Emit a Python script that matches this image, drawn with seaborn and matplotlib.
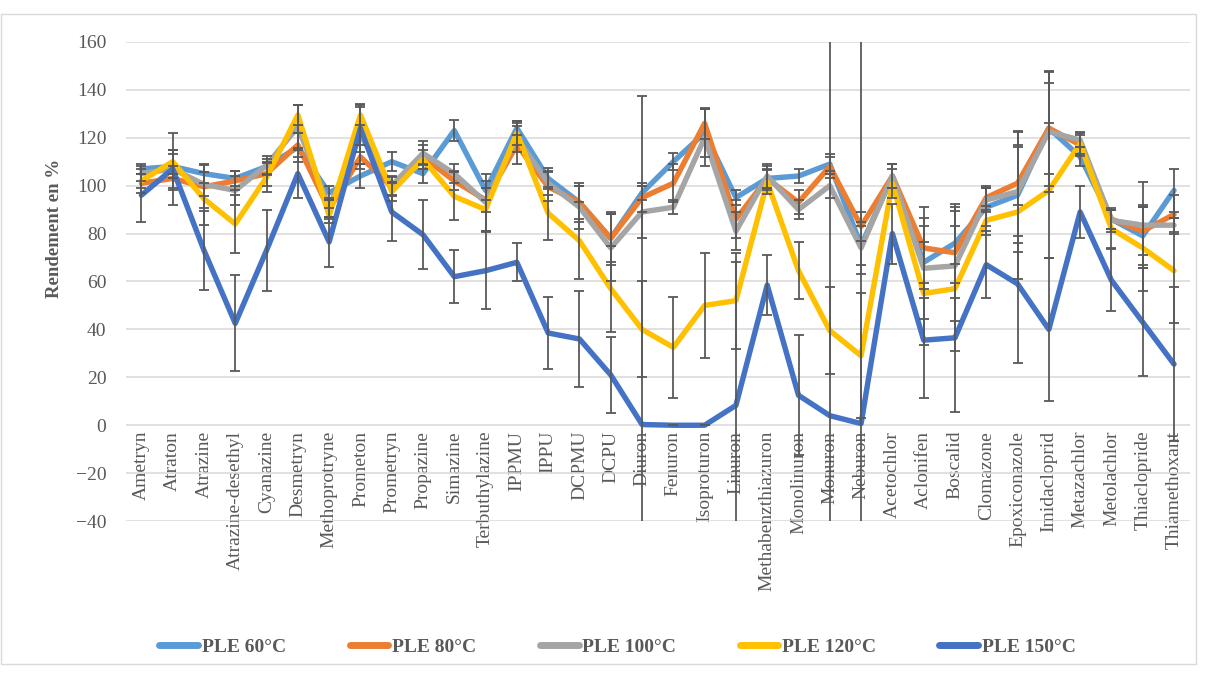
import matplotlib
matplotlib.use("Agg")
import matplotlib.pyplot as plt
from matplotlib.patches import Rectangle
import pandas as pd
import seaborn as sns

# categories (compounds)
compounds = ["Ametryn", "Atraton", "Atrazine", "Atrazine-desethyl", "Cyanazine", "Desmetryn",
             "Methoprotryne", "Prometon", "Prometryn", "Propazine", "Simazine", "Terbuthylazine",
             "IPPMU", "IPPU", "DCPMU", "DCPU", "Diuron", "Fenuron", "Isoproturon", "Linuron",
             "Methabenzthiazuron", "Monolinuron", "Monuron", "Neburon", "Acetochlor", "Aclonifen",
             "Boscalid", "Clomazone", "Epoxiconazole", "Imidacloprid", "Metazachlor", "Metolachlor",
             "Thiaclopride", "Thiamethoxant"]

series_names = ["PLE 60°C", "PLE 80°C", "PLE 100°C", "PLE 120°C", "PLE 150°C"]

# rendement (%)
ple60 = [107, 108, 105, 103, 108, 116, 97, 104, 110, 105, 123, 98, 124, 103, 93, 78, 97, 110,
         122, 95, 103, 104, 109, 75, 104, 68, 76, 91, 96, 124, 112, 86, 79, 98]
ple80 = [101, 103, 99.5, 102, 105, 117, 90, 112, 99.5, 112, 102, 94, 117, 99.5, 93, 78, 95, 101,
         126, 86, 103, 93, 108, 83, 104, 74, 72, 95, 101, 124, 117, 86, 81, 88]
ple100 = [105, 107, 100.5, 98, 108.5, 124.5, 91, 121, 100, 113.5, 105, 93, 120, 101, 91, 74, 89, 91,
          120, 81, 104, 90, 100, 74, 104, 65.5, 66.5, 94, 97.5, 122.5, 119, 85.5, 83.5, 83.5]
ple120 = [102, 110, 94.5, 84, 103.5, 129.5, 87.5, 129.5, 97.5, 111, 95.5, 90, 122, 88.5, 77, 57, 40, 32.5,
          50, 52, 101.5, 64.5, 39.5, 29, 101, 55, 57, 85.5, 89, 98, 117.5, 82, 74, 64.5]
ple150 = [96, 107, 73, 42.5, 73, 105, 76.5, 124, 89, 79.5, 62, 64.5, 68, 38.5, 36, 21, 0.3, 0,
          0, 8.3, 58.5, 12.5, 4, 0.7, 80, 35.5, 36.5, 67, 59, 40, 89, 60.5, 43, 25.5]

# error (+/-)
err60 = [2, 5, 4, 3, 3, 6, 3, 5, 4, 4, 4.5, 4, 3, 4.5, 8, 10, 3, 3.5,
         10, 3, 5, 3, 3, 8, 5, 15, 16.5, 8, 20, 19, 4, 4, 12, 9]
err80 = [4, 5, 9, 4, 5, 5, 4, 5, 4, 5, 4, 5, 8, 6, 7, 11, 6, 8,
         6.5, 8, 4, 5, 5, 6, 5, 17, 19, 5, 22, 24, 4, 4, 10, 8]
err100 = [3, 8, 5, 6, 4, 9, 4, 12, 4, 5, 4, 12, 6, 5, 9, 14, 11, 3,
          12, 8, 5, 4, 5, 11, 5, 21, 23, 5, 25, 25, 3, 5, 18, 3]
err120 = [3, 5, 11, 12, 6, 4, 3, 4, 4, 4, 10, 9, 5, 11, 16, 18, 20, 21,
          22, 20, 5, 12, 18, 26, 6, 21.5, 26, 6, 28, 28, 5, 8, 18, 22]
err150 = [11, 15, 16.5, 20, 17, 10, 10.5, 10, 12, 14.5, 11, 16, 8, 15, 20, 16, 137, 0,
          0, 60, 12.5, 25, 200, 200, 12.5, 24, 31, 14, 33, 30, 11, 13, 22.5, 32]

colors = ["#5B9BD5", "#ED7D31", "#A5A5A5", "#FFC000", "#4472C4"]

values = [ple60, ple80, ple100, ple120, ple150]
errors = [err60, err80, err100, err120, err150]

df = pd.concat([pd.DataFrame({"compound": compounds, "rendement": v, "err": e, "serie": s})
                for s, v, e in zip(series_names, values, errors)], ignore_index=True)

sns.set_theme(style="white")
plt.rcParams["font.family"] = ["Liberation Serif", "DejaVu Serif"]
txt = "#595959"

fig = plt.figure(figsize=(12.09, 6.75), dpi=100)
ax = fig.add_axes([0.104, 0.228, 0.880, 0.710])

sns.lineplot(data=df, x="compound", y="rendement", hue="serie", palette=colors,
             hue_order=series_names, sort=False, linewidth=3.9, ax=ax, zorder=2)

for s in series_names:
    d = df[df["serie"] == s]
    ax.errorbar(d["compound"], d["rendement"], yerr=d["err"], fmt="none",
                ecolor="#595959", elinewidth=1.3, capsize=3.8, capthick=1.3, zorder=3)

ax.set_ylim(-40, 160)
ax.set_xlim(-0.5, len(compounds) - 0.5)
ax.set_yticks(range(-40, 161, 20))
ax.grid(axis="y", color="#D9D9D9", linewidth=1.1)
ax.grid(axis="x", visible=False)
ax.set_axisbelow(True)
for sp in ax.spines.values():
    sp.set_visible(False)
ax.spines["bottom"].set_position(("data", 0))
ax.tick_params(axis="x", length=0, pad=4, labelsize=14, labelcolor=txt, rotation=90)
ax.tick_params(axis="y", length=0, pad=14, labelsize=14, labelcolor=txt)
for lab in ax.get_xticklabels():
    lab.set_va("top")

ax.set_xlabel("")
ax.set_ylabel("Rendement en %", fontsize=13.5, fontweight="bold", color=txt)
ax.yaxis.set_label_coords(-0.059, 0.61)

ax.get_legend().remove()
handles, labels = ax.get_legend_handles_labels()
for h in handles:
    h.set_linewidth(5)
leg = fig.legend(handles, labels, loc="center", bbox_to_anchor=(0.511, 0.041), ncol=5,
                 frameon=False, handlelength=2.0, handletextpad=0.2, columnspacing=3.25,
                 prop={"family": ["Liberation Serif"], "weight": "bold", "size": 14})
for t in leg.get_texts():
    t.set_color(txt)

fig.patches.append(Rectangle((0.001, 0.016), 0.988, 0.964, transform=fig.transFigure,
                             fill=False, edgecolor="#D9D9D9", linewidth=1))

fig.savefig("out.png", dpi=100)
